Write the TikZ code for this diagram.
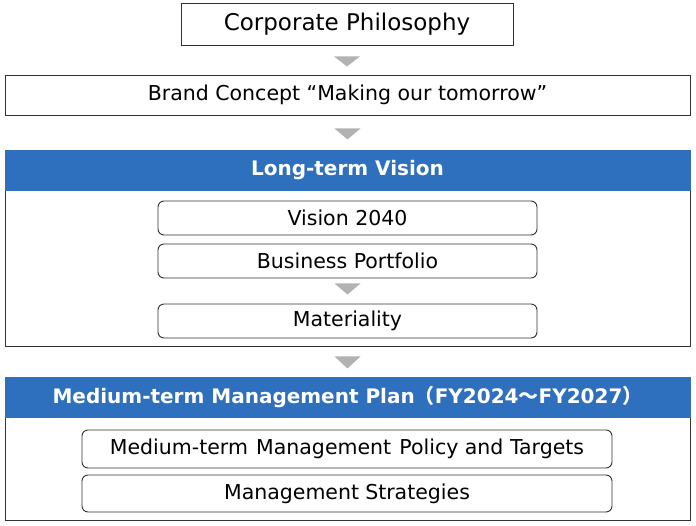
\documentclass[tikz,border=0pt]{standalone}
\usepackage{fontspec}
\setmainfont{DejaVu Sans}
\newfontfamily\cjkfont{Noto Sans CJK JP}
\usetikzlibrary{calc}
\definecolor{hdrblue}{RGB}{46,112,190}
\definecolor{arrowgray}{RGB}{178,178,178}
\definecolor{edge}{RGB}{50,50,50}
\tikzset{
  plain/.style={draw=edge, line width=0.9pt, fill=white, inner sep=0pt, align=center},
  rbox/.style={plain, rounded corners=6pt, minimum width=379pt, minimum height=34pt, font=\fontsize{20.5}{24}\selectfont},
  hdr/.style={fill=hdrblue, draw=hdrblue, inner sep=0pt, minimum width=685pt, minimum height=40pt, text=white, font=\fontsize{20}{24}\selectfont\bfseries},
  body/.style={draw=edge, line width=0.9pt, inner sep=0pt, minimum width=685pt},
  tri/.style={fill=arrowgray}
}
\begin{document}
\begin{tikzpicture}[x=1pt,y=-1pt]
\useasboundingbox (0,0) rectangle (696,525);
\node[plain, minimum width=332pt, minimum height=42pt, font=\fontsize{23}{26}\selectfont] (corp) at (347,24) {Corporate Philosophy};
\node[plain, minimum width=685pt, minimum height=40pt, font=\fontsize{20.5}{24}\selectfont] (brand) at (347.5,95) {Brand Concept “Making our tomorrow”};
% Long-term vision
\node[body, minimum height=156pt] (ltvbody) at (347.5,268) {};
\node[hdr] (ltv) at (347.5,170) {Long-term Vision};
\node[rbox] (v2040) at (347.5,218) {Vision 2040};
\node[rbox] (bp) at (347.5,261) {Business Portfolio};
\node[rbox] (mat) at (347.5,321) {Materiality};
% Medium-term plan
\node[body, minimum height=103pt] (mtpbody) at (347.5,468.5) {};
\node[hdr] (mtp) at (347.5,397) {Medium-term Management Plan{\cjkfont（}FY2024{\cjkfont ～}FY2027{\cjkfont ）}};
\node[rbox, minimum width=530pt, minimum height=38pt] (pol) at (347,449) {Medium-term\hspace{0.4em}Management\hspace{0.4em}Policy and Targets};
\node[rbox, minimum width=530pt, minimum height=37pt] (strat) at (347,493.5) {Management\hspace{0.3em}Strategies};
% arrows
\fill[tri] ($(corp.south)+(-13,11)$) -- ++(26,0) -- ++(-13,10) -- cycle;
\fill[tri] ($(brand.south)+(-13,13)$) -- ++(26,0) -- ++(-13,11) -- cycle;
\fill[tri] ($(bp.south)+(-13,5)$) -- ++(26,0) -- ++(-13,11) -- cycle;
\fill[tri] ($(ltvbody.south)+(-13,10)$) -- ++(26,0) -- ++(-13,12) -- cycle;
\end{tikzpicture}
\end{document}
